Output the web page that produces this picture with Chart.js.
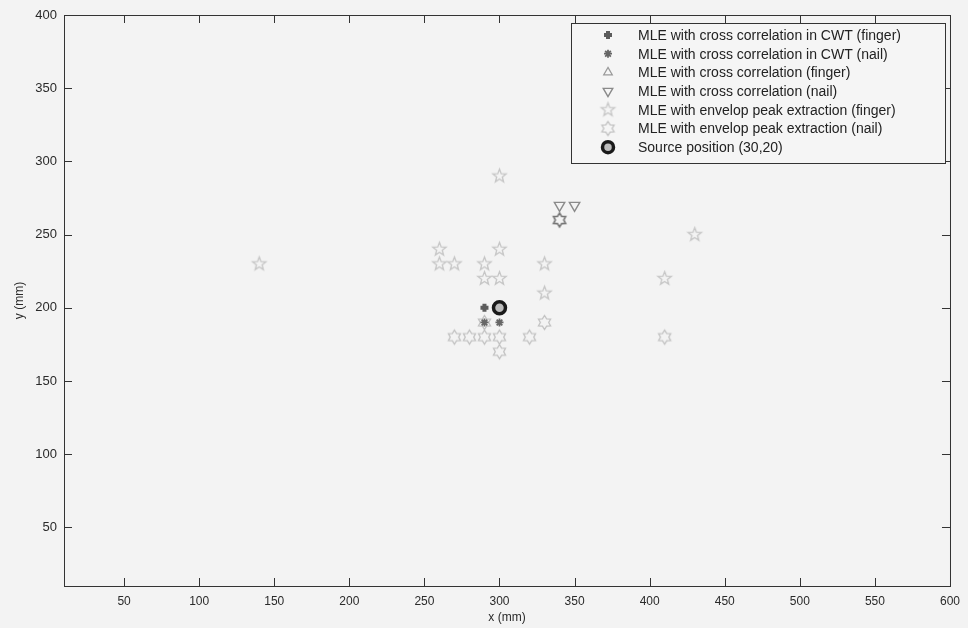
<!DOCTYPE html>
<html>
<head>
<meta charset="utf-8">
<script src="https://cdn.jsdelivr.net/npm/chart.js@4.4.0/dist/chart.umd.min.js"></script>
<style>
  html, body { margin: 0; padding: 0; background: #f3f3f3; }
  #wrap { width: 968px; height: 628px; }
</style>
</head>
<body>
<div id="wrap"><canvas id="chart1" width="968" height="628"></canvas></div>
<script>
// Estimated source localisation results (mm)
const cwtFingerX = [290];
const cwtFingerY = [200];
const cwtNailX = [290, 300];
const cwtNailY = [190, 190];
const ccFingerX = [300];
const ccFingerY = [200];
const ccNailX = [340, 350];
const ccNailY = [270, 270];
const envFingerX = [140, 260, 260, 270, 290, 300, 300, 330, 430, 410, 330, 290, 300];
const envFingerY = [230, 240, 230, 230, 230, 240, 290, 230, 250, 220, 210, 220, 220];
const envNailX = [340, 290, 270, 280, 290, 300, 320, 300, 330, 410];
const envNailY = [260, 190, 180, 180, 180, 180, 180, 170, 190, 180];
const sourceX = [300];
const sourceY = [200];

const seriesLabels = [
    'MLE with cross correlation in CWT (finger)',
    'MLE with cross correlation in CWT (nail)',
    'MLE with cross correlation (finger)',
    'MLE with cross correlation (nail)',
    'MLE with envelop peak extraction (finger)',
    'MLE with envelop peak extraction (nail)',
    'Source position (30,20)'
];
const xTicks = [50, 100, 150, 200, 250, 300, 350, 400, 450, 500, 550, 600];
const yTicks = [50, 100, 150, 200, 250, 300, 350, 400];

function toPoints(xs, ys) {
    return xs.map((x, i) => ({ x: x, y: ys[i] }));
}

// star shaped marker drawn on a small canvas (pentagram / hexagram)
function starMarker(n, outer, ratio, color, lw) {
    const size = Math.ceil(outer * 2 + lw * 2 + 2);
    const c = document.createElement('canvas');
    c.width = size; c.height = size;
    const g = c.getContext('2d');
    g.translate(size / 2, size / 2);
    g.beginPath();
    for (let i = 0; i < n * 2; i++) {
        const r = i % 2 === 0 ? outer : outer * ratio;
        const a = -Math.PI / 2 + i * Math.PI / n;
        if (i === 0) g.moveTo(r * Math.cos(a), r * Math.sin(a));
        else g.lineTo(r * Math.cos(a), r * Math.sin(a));
    }
    g.closePath();
    g.strokeStyle = color;
    g.lineWidth = lw;
    g.stroke();
    return c;
}

const pentaLight = starMarker(5, 7, 0.42, '#c6c6c6', 1.3);
const hexaLight = starMarker(6, 7, 0.6, '#c2c2c2', 1.3);
const hexaDark = starMarker(6, 7, 0.6, '#777777', 1.6);

const datasets = [
    { label: seriesLabels[0], data: toPoints(cwtFingerX, cwtFingerY), pointStyle: 'cross',
      pointRadius: 4, pointBorderWidth: 4, borderColor: '#5c5c5c', backgroundColor: '#5c5c5c' },
    { label: seriesLabels[1], data: toPoints(cwtNailX, cwtNailY), pointStyle: 'star',
      pointRadius: 4, pointBorderWidth: 1.8, borderColor: '#666666', backgroundColor: '#666666' },
    { label: seriesLabels[2], data: toPoints(ccFingerX, ccFingerY), pointStyle: 'triangle',
      pointRadius: 5, pointBorderWidth: 1.2, borderColor: '#9a9a9a', backgroundColor: 'rgba(0,0,0,0)' },
    { label: seriesLabels[3], data: toPoints(ccNailX, ccNailY), pointStyle: 'triangle', rotation: 180,
      pointRadius: 6, pointBorderWidth: 1.4, borderColor: '#8a8a8a', backgroundColor: 'rgba(0,0,0,0)' },
    { label: seriesLabels[4], data: toPoints(envFingerX, envFingerY), pointStyle: pentaLight,
      pointRadius: 7, borderColor: '#c6c6c6', backgroundColor: 'rgba(0,0,0,0)' },
    { label: seriesLabels[5], data: toPoints(envNailX, envNailY),
      pointStyle: ctx => ctx.dataIndex === 0 ? hexaDark : hexaLight,
      pointRadius: 7, borderColor: '#c2c2c2', backgroundColor: 'rgba(0,0,0,0)' },
    { label: seriesLabels[6], data: toPoints(sourceX, sourceY), pointStyle: 'circle', order: -1,
      pointRadius: 6, pointBorderWidth: 3.5, borderColor: '#1a1a1a', backgroundColor: '#bdbdbd' }
];

// page background
const bgPlugin = {
    id: 'bg',
    beforeDraw(chart) {
        const c = chart.ctx;
        c.save();
        c.fillStyle = '#f3f3f3';
        c.fillRect(0, 0, chart.width, chart.height);
        c.restore();
    }
};

// matlab style box with inward ticks on all four sides
const framePlugin = {
    id: 'frame',
    afterDraw(chart) {
        const c = chart.ctx;
        const a = chart.chartArea;
        const xs = chart.scales.x, ys = chart.scales.y;
        const len = 8;
        c.save();
        c.strokeStyle = '#333333';
        c.lineWidth = 1;
        c.strokeRect(a.left + 0.5, a.top + 0.5, a.right - a.left, a.bottom - a.top);
        c.beginPath();
        xTicks.forEach(v => {
            const px = Math.round(xs.getPixelForValue(v)) + 0.5;
            c.moveTo(px, a.bottom); c.lineTo(px, a.bottom - len);
            c.moveTo(px, a.top); c.lineTo(px, a.top + len);
        });
        yTicks.forEach(v => {
            const py = Math.round(ys.getPixelForValue(v)) + 0.5;
            c.moveTo(a.left, py); c.lineTo(a.left + len, py);
            c.moveTo(a.right, py); c.lineTo(a.right - len, py);
        });
        c.stroke();
        c.restore();
    }
};

// legend box in the upper right corner
const legendPlugin = {
    id: 'boxLegend',
    afterDraw(chart) {
        const c = chart.ctx;
        const bx = 571, by = 23, bw = 374, bh = 140;
        c.save();
        c.fillStyle = '#f5f5f5';
        c.fillRect(bx, by, bw, bh);
        c.strokeStyle = '#333333';
        c.lineWidth = 1;
        c.strokeRect(bx + 0.5, by + 0.5, bw, bh);
        c.font = '14px "Liberation Sans", Arial, sans-serif';
        c.textBaseline = 'middle';
        chart.data.datasets.forEach((ds, i) => {
            const y = by + 12 + i * 18.7;
            const meta = chart.getDatasetMeta(i);
            const el = meta.data[meta.data.length - 1];
            const o = el.options;
            c.strokeStyle = o.borderColor;
            c.fillStyle = o.backgroundColor;
            c.lineWidth = o.borderWidth;
            Chart.helpers.drawPoint(c, {
                pointStyle: o.pointStyle, rotation: o.rotation,
                radius: Math.min(o.radius, 5.5), borderWidth: o.borderWidth
            }, 608, y);
            c.fillStyle = '#222222';
            c.fillText(ds.label, 638, y + 1);
        });
        c.restore();
    }
};

const ctx = document.getElementById('chart1').getContext('2d');
const chart = new Chart(ctx, {
    type: 'scatter',
    data: { datasets: datasets },
    plugins: [bgPlugin, framePlugin, legendPlugin],
    options: {
        responsive: false,
        animation: false,
        layout: { padding: { top: 15, right: 15, left: 0, bottom: 0 } },
        plugins: { legend: { display: false }, tooltip: { enabled: false } },
        scales: {
            x: {
                type: 'linear', min: 10, max: 600,
                grid: { display: false, drawTicks: false },
                border: { display: false },
                afterBuildTicks: s => { s.ticks = xTicks.map(v => ({ value: v })); },
                afterFit: s => { s.height = 42; },
                ticks: { padding: 8, color: '#2a2a2a', font: { family: '"Liberation Sans", Arial', size: 12 } },
                title: { display: true, text: 'x (mm)', color: '#2a2a2a', padding: { top: 0, bottom: 3 },
                         font: { family: '"Liberation Sans", Arial', size: 12 } }
            },
            y: {
                type: 'linear', min: 10, max: 400,
                grid: { display: false, drawTicks: false },
                border: { display: false },
                afterBuildTicks: s => { s.ticks = yTicks.map(v => ({ value: v })); },
                afterFit: s => { s.width = 64; },
                ticks: { padding: 7, color: '#2a2a2a', font: { family: '"Liberation Sans", Arial', size: 13 } },
                title: { display: true, text: 'y (mm)', color: '#2a2a2a', padding: { top: 12, bottom: 0 },
                         font: { family: '"Liberation Sans", Arial', size: 12 } }
            }
        }
    }
});
</script>
</body>
</html>
